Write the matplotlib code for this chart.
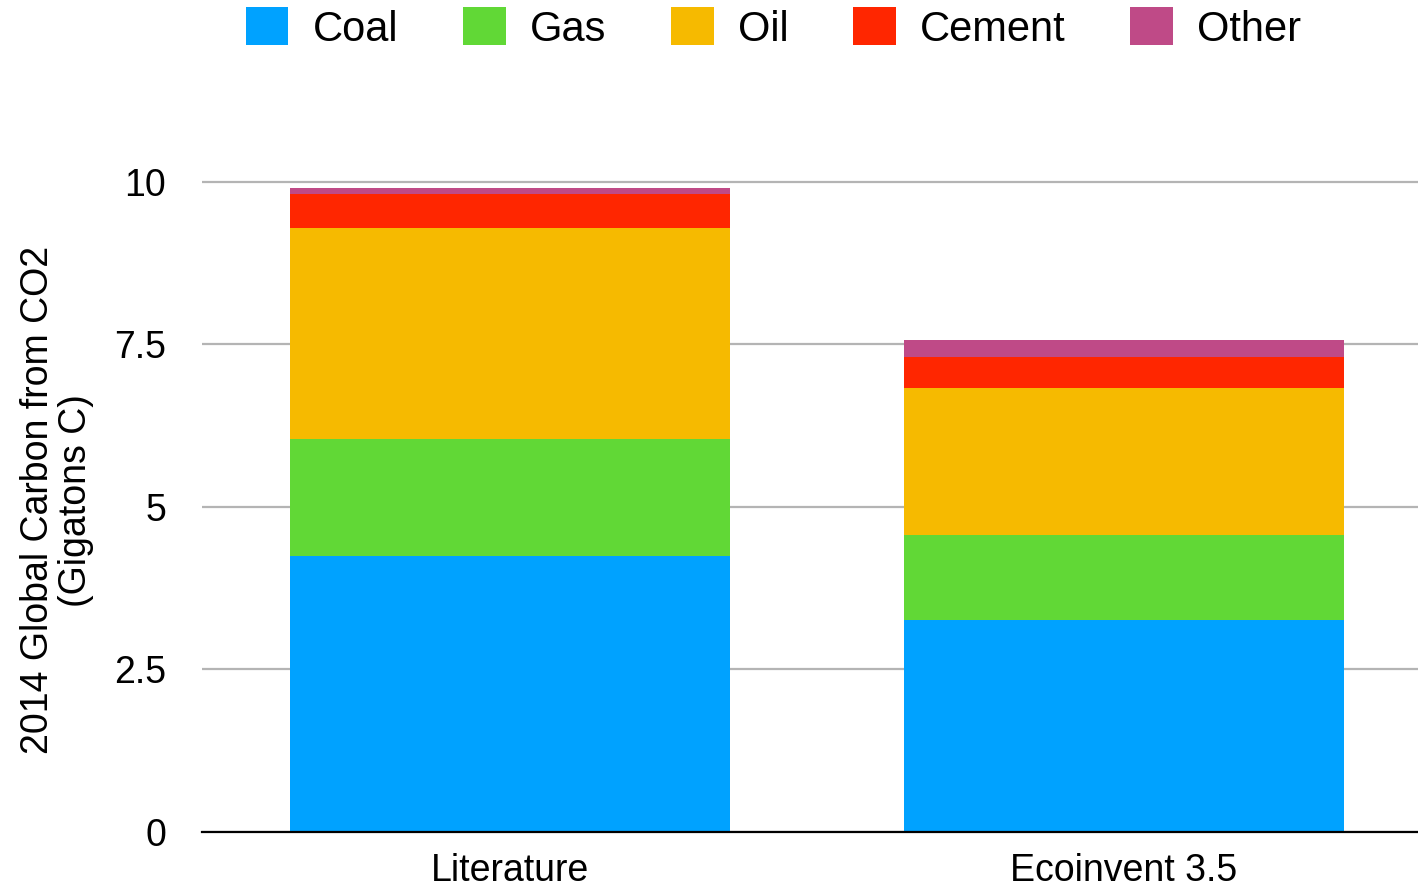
import numpy as np
import matplotlib.pyplot as plt

plt.rcParams['font.family'] = ['Liberation Sans', 'DejaVu Sans']

# data (Gigatons C)
categories = ["Literature", "Ecoinvent 3.5"]
sources = ["Coal", "Gas", "Oil", "Cement", "Other"]
coal = [4.25, 3.26]
gas = [1.80, 1.31]
oil = [3.24, 2.26]
cement = [0.52, 0.48]
other = [0.09, 0.25]
yticks = [0, 2.5, 5, 7.5, 10]
ytick_labels = ["0", "2.5", "5", "7.5", "10"]

colors = ["#00a2ff", "#61d836", "#f6ba00", "#ff2600", "#bf4a87"]

fig = plt.figure(figsize=(14.18, 8.89), dpi=100)
ax = fig.add_axes([0.1425, 0.0641, 0.8575, 0.746])

x = np.arange(len(categories))
bottom = np.zeros(len(categories))
for name, vals, col in zip(sources, [coal, gas, oil, cement, other], colors):
    ax.bar(x, vals, width=0.717, bottom=bottom, color=col, label=name, zorder=3)
    bottom += np.array(vals)

ax.set_xlim(-0.502, 1.479)
ax.set_ylim(0, 10.2)
ax.set_yticks(yticks)
ax.set_yticklabels(ytick_labels)
ax.set_xticks(x)
ax.set_xticklabels(categories)
ax.yaxis.grid(True, color="#b4b4b4", linewidth=1.6, zorder=0)
ax.tick_params(axis="y", length=0, pad=26, labelsize=27)
ax.tick_params(axis="x", length=0, pad=15, labelsize=27)

for s in ["top", "right", "left"]:
    ax.spines[s].set_visible(False)
ax.spines["bottom"].set_color("black")
ax.spines["bottom"].set_linewidth(1.6)
ax.spines["bottom"].set_zorder(4)

ax.set_ylabel("2014 Global Carbon from CO2\n(Gigatons C)", fontsize=27, labelpad=14,
              linespacing=1.1)

fig.legend(loc="center", bbox_to_anchor=(0.5455, 0.968), ncol=5, frameon=False,
           fontsize=30, handlelength=1.03, handleheight=1.03, handletextpad=0.58,
           columnspacing=1.55, borderaxespad=0)

fig.savefig("out.png", dpi=100)
